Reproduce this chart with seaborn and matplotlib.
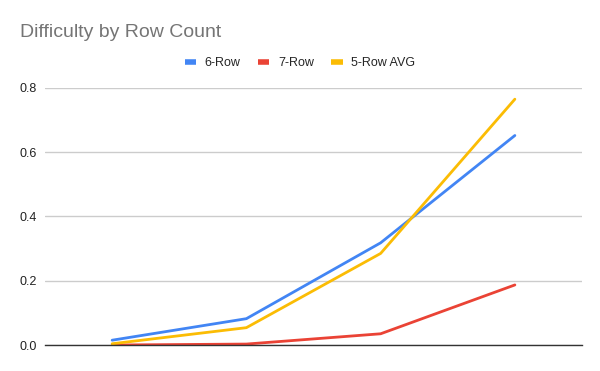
import matplotlib
matplotlib.use('Agg')
import matplotlib.pyplot as plt
import seaborn as sns
import pandas as pd

categories = ['A', 'B', 'C', 'D']
six_row = [0.015, 0.082, 0.318, 0.652]
seven_row = [0.0, 0.003, 0.035, 0.187]
five_row_avg = [0.004, 0.054, 0.285, 0.765]
yticks = [0.0, 0.2, 0.4, 0.6, 0.8]

sns.set_style('white')
plt.rcParams['font.family'] = ['Liberation Sans', 'DejaVu Sans']

df = pd.DataFrame({'x': list(range(len(categories))) * 3,
                   'value': six_row + seven_row + five_row_avg,
                   'series': ['6-Row'] * 4 + ['7-Row'] * 4 + ['5-Row AVG'] * 4})
colors = {'6-Row': '#4285f4', '7-Row': '#ea4335', '5-Row AVG': '#fbbc04'}

fig = plt.figure(figsize=(6, 3.71), dpi=100)
ax = fig.add_axes([0.075, 0.07, 0.895, 0.693])
sns.lineplot(data=df, x='x', y='value', hue='series', palette=colors, ax=ax,
             linewidth=2, legend=False)

ax.set_xlim(-0.5, 3.5)
ax.set_ylim(0, 0.8)
ax.set_yticks(yticks)
ax.set_yticklabels(['%.1f' % t for t in yticks], fontsize=9, color='#222222')
ax.set_xticks([])
ax.set_xlabel('')
ax.set_ylabel('')
ax.grid(axis='y', color='#cccccc', linewidth=1)
ax.tick_params(axis='y', length=0, pad=6)
for s in ['top', 'right', 'left']:
    ax.spines[s].set_visible(False)
ax.spines['bottom'].set_color('#333333')
ax.spines['bottom'].set_linewidth(1)
ax.spines['bottom'].set_zorder(3)

handles = [plt.Line2D([], [], color=colors[k], linewidth=4, solid_capstyle='butt')
           for k in colors]
fig.legend(handles, list(colors), loc='center', bbox_to_anchor=(0.5, 0.83),
           ncol=3, frameon=False, fontsize=9, handlelength=0.9,
           columnspacing=1.4, handletextpad=0.7)

fig.text(0.033, 0.9, 'Difficulty by Row Count', fontsize=14, color='#757575')

fig.savefig('out.png', dpi=100)
